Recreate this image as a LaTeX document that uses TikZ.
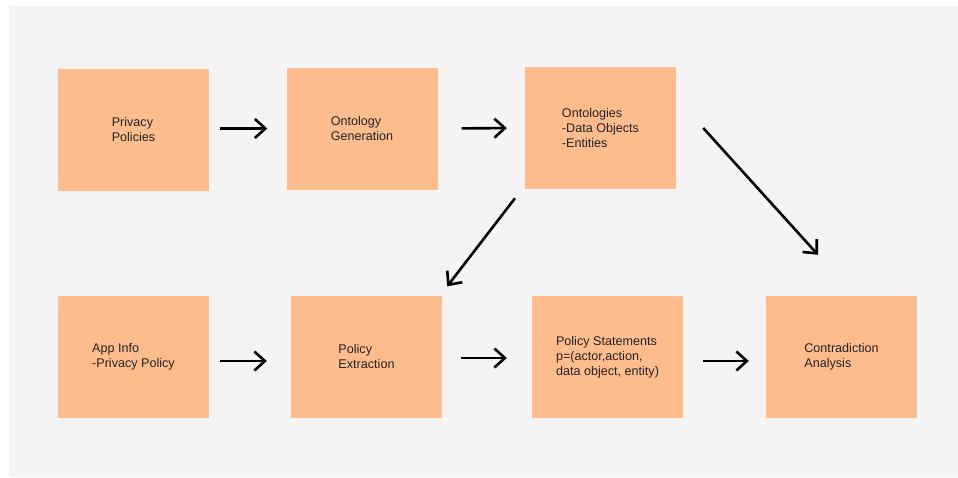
\documentclass[tikz,border=0pt]{standalone}
\usepackage{fontspec}
\setmainfont{Liberation Sans}
\usetikzlibrary{arrows.meta}
\definecolor{peach}{HTML}{FFBD8E}
\definecolor{canvas}{HTML}{F4F4F4}
\definecolor{ink}{HTML}{222222}
\tikzset{
  box/.style = {fill=peach, inner sep=0pt, minimum width=151pt, minimum height=122pt,
                align=left, text=ink, font=\fontsize{12.6}{15.2}\selectfont},
  arr/.style = {-{Straight Barb[length=10.5pt, width=19pt]}, line width=2.6pt, black}
}
\begin{document}
\begin{tikzpicture}[x=1pt, y=-1pt]
    \fill [white] (0,0) rectangle (958,477);
    \fill [canvas] (9,6) rectangle (958,477);
    % top row
    \node [box] (pp) at (133.5,129.5) {Privacy\\Policies};
    \node [box] (og) at (362,128.5) {Ontology\\Generation};
    \node [box] (onto) at (600.5,128) {Ontologies\\-Data Objects\\-Entities};
    % bottom row
    \node [box] (app) at (133.5,356.5) {App Info\\-Privacy Policy};
    \node [box] (pext) at (366.5,356.5) {Policy\\Extraction};
    \node [box] (pst) at (607.5,357) {Policy Statements\\p=(actor,action,\\data object, entity)};
    \node [box] (contra) at (841.5,357) {Contradiction\\Analysis};
    \draw [arr, shorten <=11pt, shorten >=19pt] ([yshift=1pt]pp.east) -- ([yshift=0pt]og.west);
    \draw [arr, shorten <=24pt, shorten >=18pt] (og.east) -- (onto.west);
    \draw [arr, shorten <=11pt, shorten >=24pt] ([yshift=-4.5pt]app.east) -- ([yshift=-4.5pt]pext.west);
    \draw [arr, shorten <=19pt, shorten >=25pt] ([yshift=-1.5pt]pext.east) -- ([yshift=-1pt]pst.west);
    \draw [arr, shorten <=20pt, shorten >=17pt] ([yshift=-4pt]pst.east) -- ([yshift=-4pt]contra.west);
    \draw [arr] ([xshift=-85.5pt, yshift=-9pt]onto.south) -- ([xshift=5pt, yshift=9pt]pext.north east);
    \draw [arr] ([xshift=27pt]onto.east) -- ([xshift=-23.5pt, yshift=41pt]contra.north);
\end{tikzpicture}
\end{document}
